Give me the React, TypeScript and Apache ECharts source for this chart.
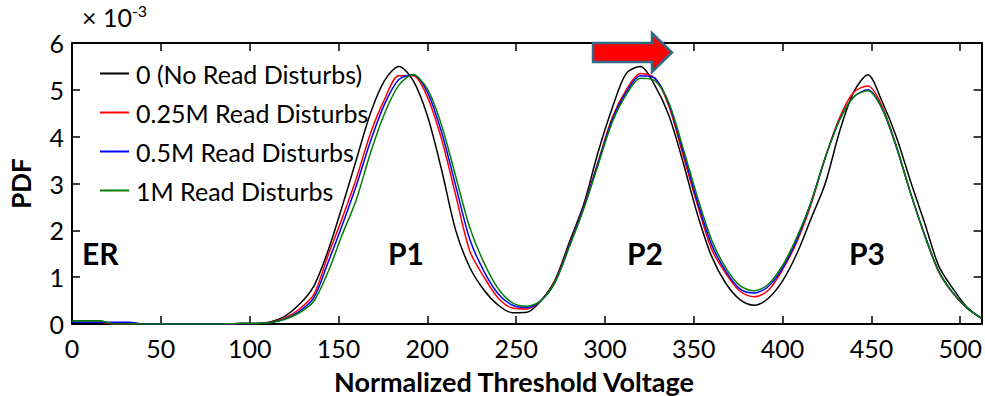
import React, { useEffect, useRef } from "react";
import * as echarts from "echarts";

const xs = [
  0, 8, 16, 24, 32, 40, 48, 56, 64, 72, 80, 88, 96,
  104, 112, 120, 128, 136, 144, 152, 160, 168, 176, 184, 192, 200,
  208, 216, 224, 232, 240, 248, 256, 264, 272, 280, 288, 296, 304,
  312, 320, 328, 336, 344, 352, 360, 368, 376, 384, 392, 400, 408,
  416, 424, 432, 440, 448, 456, 464, 472, 480, 488, 496, 504, 512,
];

const noDisturb = [
  0, 0, 0, 0, 0, 0, 0, 0, 0, 0, 0, 0, 0,
  0.01, 0.05, 0.17, 0.42, 0.8, 1.55, 2.5, 3.5, 4.5, 5.2, 5.5, 5.2, 4.45,
  3.3, 2.0, 1.2, 0.72, 0.4, 0.24, 0.25, 0.5, 0.95, 1.75, 2.55, 3.65, 4.6,
  5.35, 5.5, 5.1, 4.45, 3.45, 2.35, 1.45, 0.87, 0.52, 0.4, 0.55, 0.92, 1.5,
  2.25, 3.0, 4.1, 4.95, 5.32, 4.75, 4.0, 3.05, 2.15, 1.23, 0.75, 0.35, 0.12,
];

const disturb025M = [
  0.04, 0.04, 0.04, 0, 0, 0, 0, 0, 0, 0, 0, 0, 0.01,
  0.01, 0.04, 0.13, 0.32, 0.62, 1.45, 2.25, 3.1, 4.07, 4.8, 5.3, 5.3, 4.85,
  3.95, 2.75, 1.55, 1.0, 0.55, 0.34, 0.32, 0.5, 0.92, 1.7, 2.5, 3.45, 4.4,
  5.0, 5.35, 5.25, 4.65, 3.6, 2.55, 1.6, 1.08, 0.7, 0.58, 0.72, 1.16, 1.75,
  2.55, 3.55, 4.4, 4.95, 5.08, 4.65, 3.8, 2.8, 1.9, 1.1, 0.65, 0.33, 0.12,
];

const disturb05M = [
  0.04, 0.04, 0.04, 0.04, 0.04, 0, 0, 0, 0, 0, 0, 0, 0.01,
  0.01, 0.03, 0.11, 0.27, 0.55, 1.3, 2.1, 2.95, 3.9, 4.7, 5.22, 5.32, 4.95,
  4.1, 2.95, 1.8, 1.12, 0.64, 0.4, 0.35, 0.5, 0.9, 1.68, 2.48, 3.42, 4.35,
  4.95, 5.3, 5.25, 4.7, 3.68, 2.62, 1.7, 1.13, 0.75, 0.66, 0.8, 1.2, 1.8,
  2.6, 3.55, 4.35, 4.85, 5.0, 4.6, 3.78, 2.8, 1.9, 1.12, 0.66, 0.34, 0.12,
];

const disturb1M = [
  0.07, 0.07, 0.07, 0, 0, 0, 0, 0, 0, 0, 0, 0, 0.02,
  0.01, 0.03, 0.1, 0.24, 0.48, 1.1, 1.9, 2.65, 3.65, 4.5, 5.1, 5.32, 5.02,
  4.25, 3.15, 2.05, 1.3, 0.75, 0.45, 0.38, 0.5, 0.9, 1.65, 2.45, 3.38, 4.3,
  4.9, 5.25, 5.2, 4.72, 3.75, 2.72, 1.8, 1.2, 0.82, 0.71, 0.85, 1.25, 1.85,
  2.6, 3.55, 4.35, 4.85, 4.98, 4.6, 3.8, 2.8, 1.88, 1.12, 0.66, 0.34, 0.12,
];

const seriesNames = [
  "0 (No Read Disturbs)",
  "0.25M Read Disturbs",
  "0.5M Read Disturbs",
  "1M Read Disturbs",
];
const seriesColors = ["#000000", "#ff0000", "#0000ff", "#008000"];
const seriesValues = [noDisturb, disturb025M, disturb05M, disturb1M];

const peakLabels = ["ER", "P1", "P2", "P3"];
const xTitle = "Normalized Threshold Voltage";
const yTitle = "PDF";

const FONT = "Lato";

export default function App() {
  const ref = useRef<HTMLDivElement>(null);

  useEffect(() => {
    if (!ref.current) return;
    document.body.style.margin = "0";
    document.body.style.overflow = "hidden";
    const chart = echarts.init(ref.current, undefined, { renderer: "svg" });

    const axisCommon = {
      type: "value" as const,
      axisLine: { show: true, onZero: false, lineStyle: { color: "#000", width: 2 } },
      axisTick: { show: true, inside: true, length: 8, lineStyle: { color: "#000", width: 1.5 } },
      splitLine: { show: false },
    };

    const labelPositions = [
      { x: 82, y: 253 },
      { x: 388, y: 253 },
      { x: 627, y: 253 },
      { x: 849, y: 253 },
    ];

    chart.setOption({
      animation: false,
      backgroundColor: "#ffffff",
      grid: { left: 72, right: 3, top: 43, bottom: 72, containLabel: false },
      legend: {
        orient: "vertical",
        left: 95,
        top: 54,
        icon: "rect",
        itemWidth: 29,
        itemHeight: 2,
        itemGap: 10,
        data: seriesNames,
        textStyle: { fontFamily: FONT, fontSize: 25, color: "#000", lineHeight: 29, padding: [0, 0, 0, 2] },
      },
      xAxis: [
        {
          ...axisCommon,
          position: "bottom",
          min: 0,
          max: 512,
          interval: 50,
          axisLabel: {
            show: true,
            color: "#000",
            fontFamily: FONT,
            fontSize: 25,
            margin: 11,
            showMaxLabel: false,
          },
        },
        {
          ...axisCommon,
          position: "top",
          min: 0,
          max: 512,
          interval: 50,
          axisLabel: { show: false },
        },
      ],
      yAxis: [
        {
          ...axisCommon,
          position: "left",
          min: 0,
          max: 6,
          interval: 1,
          name: yTitle,
          nameLocation: "middle",
          nameGap: 38,
          nameRotate: 90,
          nameTextStyle: { fontFamily: FONT, fontSize: 26, fontWeight: "bold", color: "#000" },
          axisLabel: { show: true, color: "#000", fontFamily: FONT, fontSize: 25, margin: 8 },
        },
        {
          ...axisCommon,
          position: "right",
          min: 0,
          max: 6,
          interval: 1,
          axisLabel: { show: false },
        },
      ],
      series: seriesNames.map((name, i) => ({
        name,
        type: "line",
        xAxisIndex: 0,
        yAxisIndex: 0,
        data: xs.map((x, j) => [x, seriesValues[i][j]]),
        symbol: "none",
        smooth: 0.3,
        lineStyle: { color: seriesColors[i], width: 1.5 },
        itemStyle: { color: seriesColors[i] },
      })),
      graphic: [
        ...peakLabels.map((t, i) => ({
          type: "text",
          x: labelPositions[i].x,
          y: labelPositions[i].y,
          style: {
            text: t,
            fontFamily: FONT,
            fontSize: 30,
            fontWeight: "bold",
            fill: "#000",
            verticalAlign: "middle",
          },
        })),
        {
          type: "text",
          x: 514,
          y: 381,
          style: {
            text: xTitle,
            fontFamily: FONT,
            fontSize: 27,
            fontWeight: "bold",
            fill: "#000",
            align: "center",
            verticalAlign: "middle",
          },
        },
        {
          type: "text",
          x: 82,
          y: 17,
          style: {
            text: "{a|× 10}{b|-3}",
            fill: "#000",
            verticalAlign: "middle",
            rich: {
              a: { fontFamily: FONT, fontSize: 25, color: "#000" },
              b: { fontFamily: FONT, fontSize: 16, color: "#000", verticalAlign: "top", padding: [0, 0, 14, 0] },
            },
          },
        },
        {
          type: "polygon",
          shape: {
            points: [
              [593, 43],
              [652, 43],
              [652, 33],
              [672, 52.5],
              [652, 72],
              [652, 62],
              [593, 62],
            ],
          },
          style: { fill: "#ff0000", stroke: "#2f6b88", lineWidth: 2.5 },
          z: 100,
        },
      ],
    });

    return () => chart.dispose();
  }, []);

  return (
    <div
      ref={ref}
      style={{ position: "fixed", left: 0, top: 0, width: 985, height: 396 }}
    />
  );
}
